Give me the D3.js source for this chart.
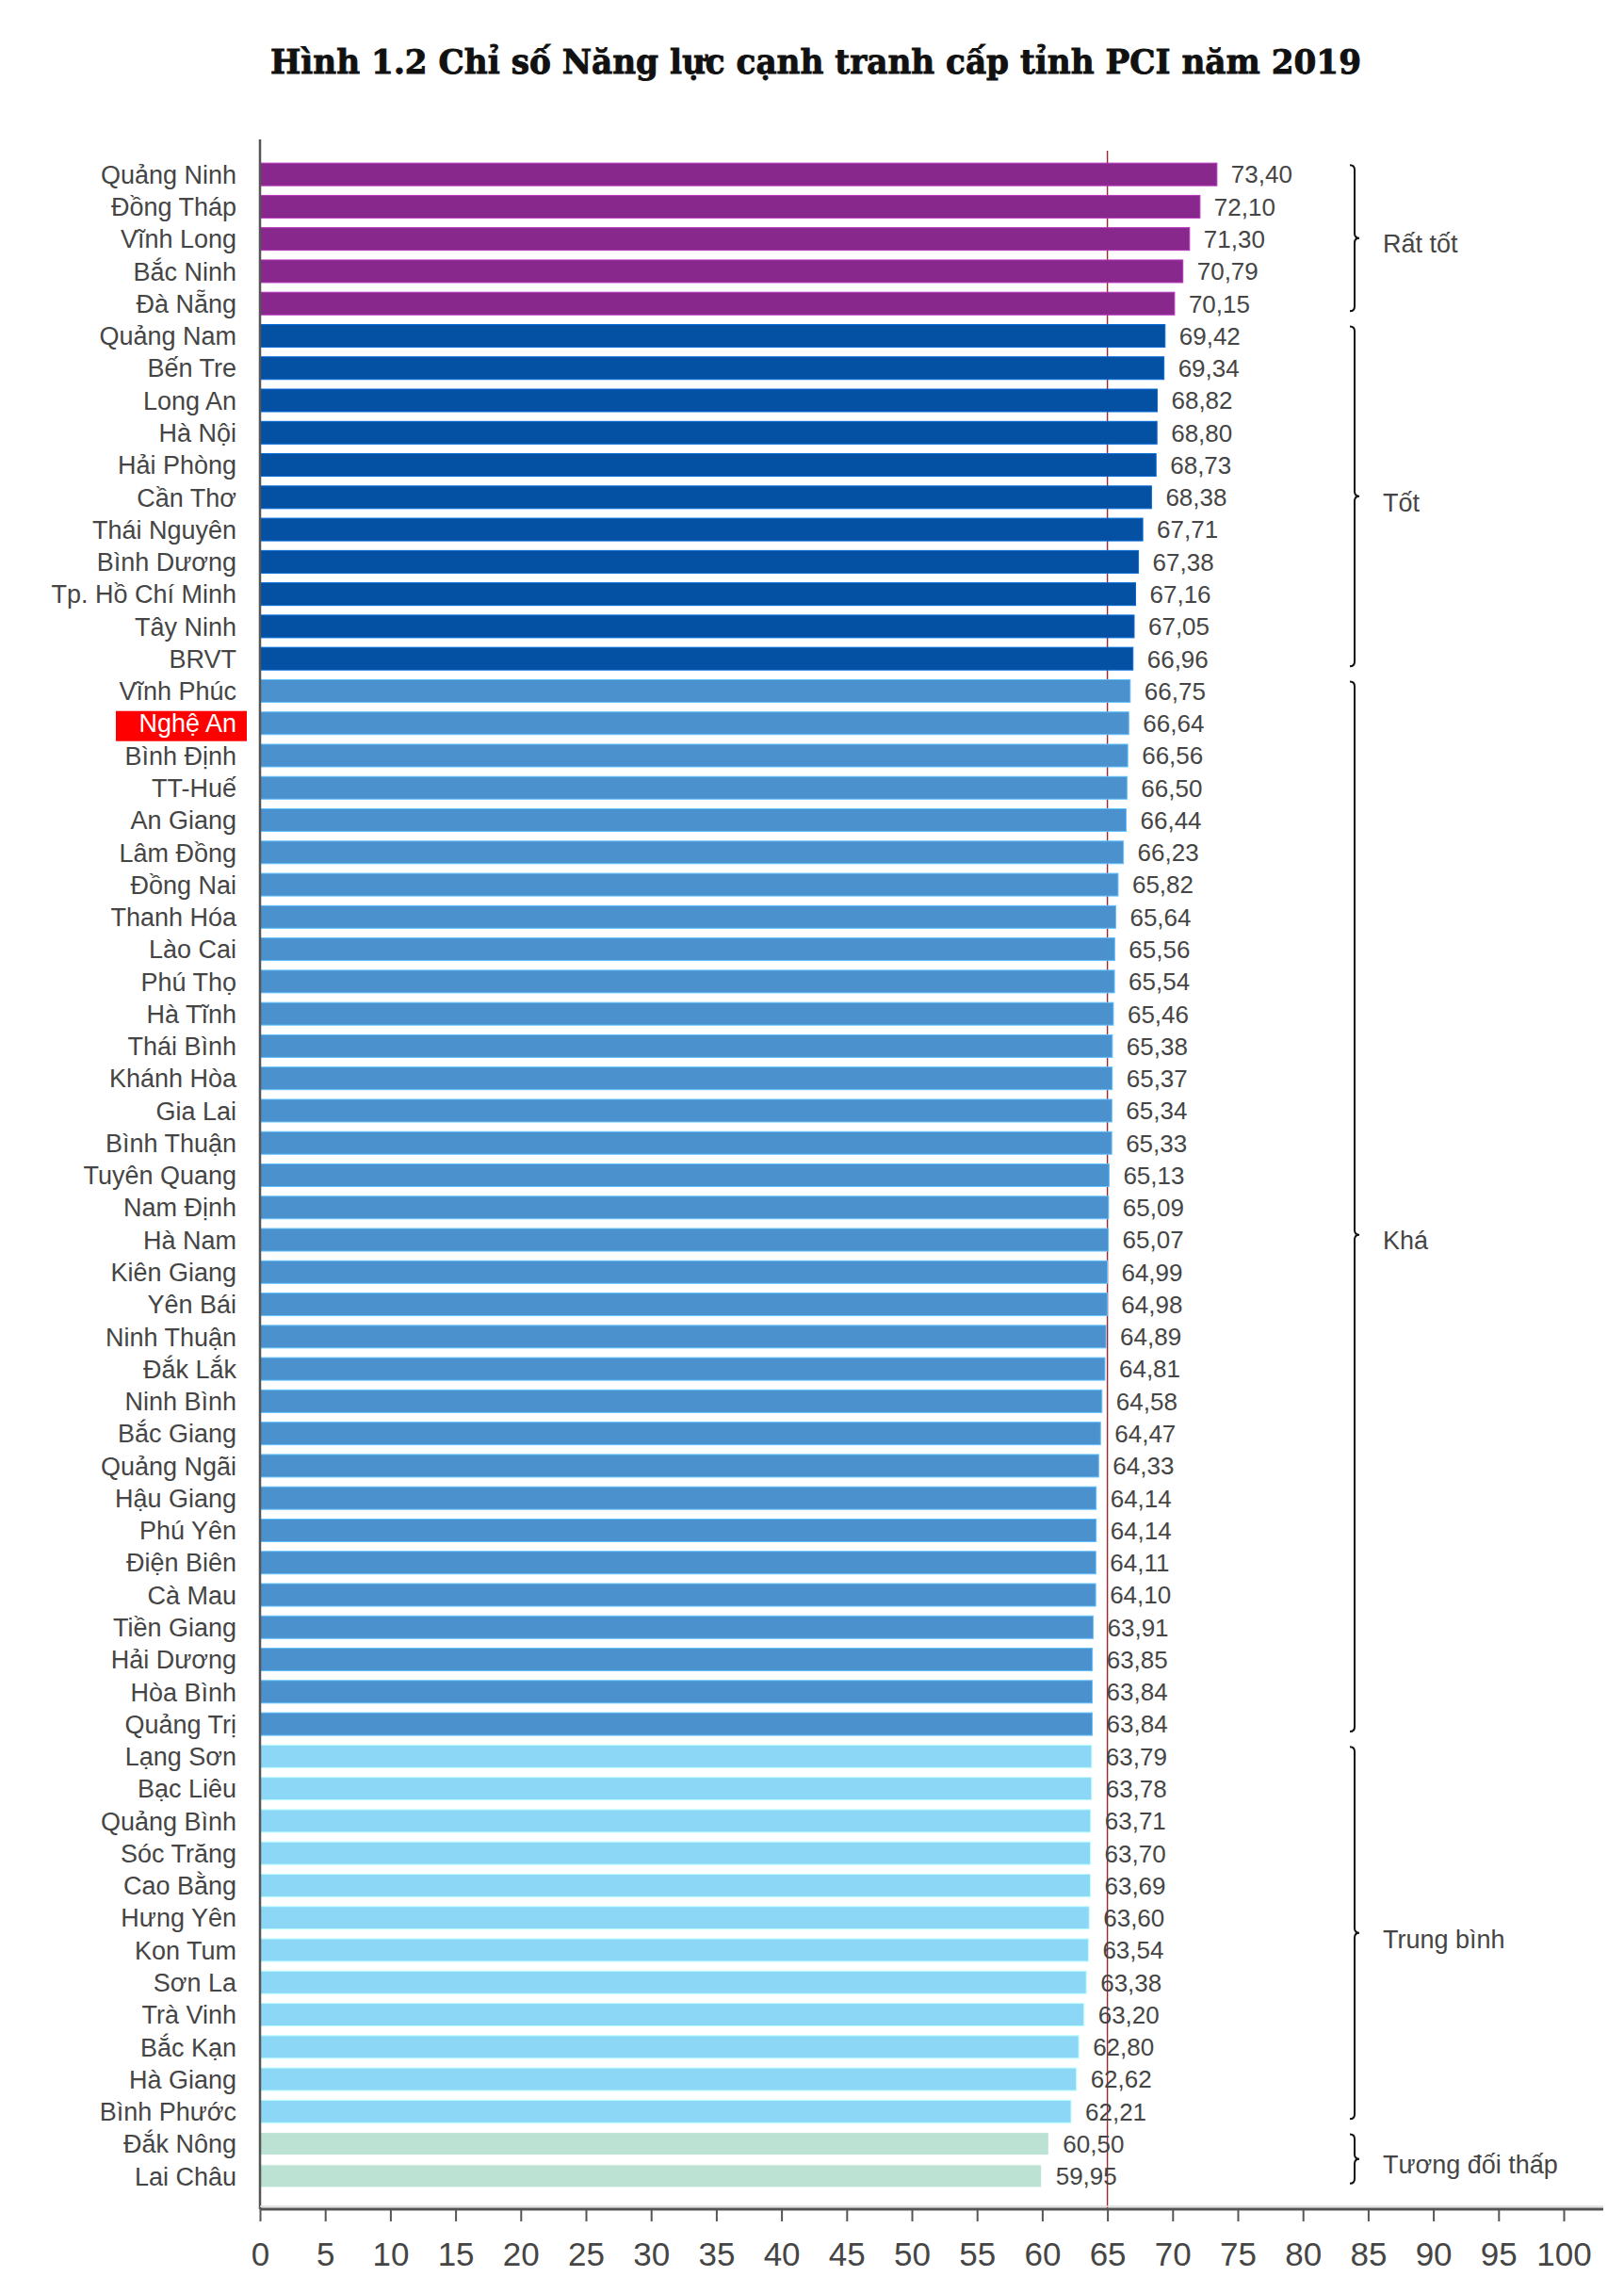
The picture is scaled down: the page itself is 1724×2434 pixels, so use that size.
<!DOCTYPE html>
<html>
<head>
<meta charset="utf-8">
<script src="https://cdn.jsdelivr.net/npm/d3@7"></script>
<style>
  body { margin: 0; background: #fff; }
  svg { display: block; font-family: "Liberation Sans", Arial, sans-serif; }
</style>
</head>
<body>
<svg id="chart" width="1724" height="2434"></svg>
<script>
// --- data ---
const provinces = [
  "Quảng Ninh", "Đồng Tháp", "Vĩnh Long", "Bắc Ninh", "Đà Nẵng",
  "Quảng Nam", "Bến Tre", "Long An", "Hà Nội", "Hải Phòng", "Cần Thơ",
  "Thái Nguyên", "Bình Dương", "Tp. Hồ Chí Minh", "Tây Ninh", "BRVT",
  "Vĩnh Phúc", "Nghệ An", "Bình Định", "TT-Huế", "An Giang", "Lâm Đồng",
  "Đồng Nai", "Thanh Hóa", "Lào Cai", "Phú Thọ", "Hà Tĩnh", "Thái Bình",
  "Khánh Hòa", "Gia Lai", "Bình Thuận", "Tuyên Quang", "Nam Định", "Hà Nam",
  "Kiên Giang", "Yên Bái", "Ninh Thuận", "Đắk Lắk", "Ninh Bình", "Bắc Giang",
  "Quảng Ngãi", "Hậu Giang", "Phú Yên", "Điện Biên", "Cà Mau", "Tiền Giang",
  "Hải Dương", "Hòa Bình", "Quảng Trị",
  "Lạng Sơn", "Bạc Liêu", "Quảng Bình", "Sóc Trăng", "Cao Bằng", "Hưng Yên",
  "Kon Tum", "Sơn La", "Trà Vinh", "Bắc Kạn", "Hà Giang", "Bình Phước",
  "Đắk Nông", "Lai Châu"
];

const scores = [
  73.40, 72.10, 71.30, 70.79, 70.15,
  69.42, 69.34, 68.82, 68.80, 68.73, 68.38,
  67.71, 67.38, 67.16, 67.05, 66.96,
  66.75, 66.64, 66.56, 66.50, 66.44, 66.23,
  65.82, 65.64, 65.56, 65.54, 65.46, 65.38,
  65.37, 65.34, 65.33, 65.13, 65.09, 65.07,
  64.99, 64.98, 64.89, 64.81, 64.58, 64.47,
  64.33, 64.14, 64.14, 64.11, 64.10, 63.91,
  63.85, 63.84, 63.84,
  63.79, 63.78, 63.71, 63.70, 63.69, 63.60,
  63.54, 63.38, 63.20, 62.80, 62.62, 62.21,
  60.50, 59.95
];

const groupNames = ["Rất tốt", "Tốt", "Khá", "Trung bình", "Tương đối thấp"];
const groupCounts = [5, 11, 33, 12, 2];
const groupColors = ["#88288c", "#0450a2", "#4a91ce", "#8dd7f6", "#bce2d4"];

const xTickValues = [0, 5, 10, 15, 20, 25, 30, 35, 40, 45, 50, 55, 60, 65, 70, 75, 80, 85, 90, 95, 100];
const referenceValue = 65;
const highlighted = "Nghệ An";

const title = "Hình 1.2 Chỉ số Năng lực cạnh tranh cấp tỉnh PCI năm 2019";

// group index for every province
const groupIndex = [];
groupCounts.forEach((n, g) => { for (let i = 0; i < n; i++) groupIndex.push(g); });

const rows = provinces.map((name, i) => ({ name, value: scores[i], group: groupIndex[i] }));

// --- layout ---
const svg = d3.select("#chart");
const textColor = "#454545";

const x = d3.scaleLinear().domain([0, 100]).range([276, 1660]);
const y = d3.scaleBand()
  .domain(provinces)
  .range([168, 2327])
  .paddingInner(0.3)
  .paddingOuter(0.15);
const axisY = 2345;

// title
svg.append("text")
  .attr("x", 866)
  .attr("y", 78)
  .attr("text-anchor", "middle")
  .attr("font-family", "'DejaVu Serif', serif")
  .attr("font-weight", "bold")
  .attr("font-size", 35)
  .attr("textLength", 1158)
  .attr("lengthAdjust", "spacingAndGlyphs")
  .attr("fill", "#111")
  .attr("stroke", "#111")
  .attr("stroke-width", 0.9)
  .text(title);

// reference line at 65 (behind the bars)
svg.append("line")
  .attr("x1", x(referenceValue)).attr("x2", x(referenceValue))
  .attr("y1", 160).attr("y2", axisY)
  .attr("stroke", "#a3262c")
  .attr("stroke-width", 1.4);

// bars
svg.append("g")
  .selectAll("rect")
  .data(rows)
  .join("rect")
  .attr("x", x(0))
  .attr("y", d => y(d.name))
  .attr("width", d => x(d.value) - x(0))
  .attr("height", y.bandwidth())
  .attr("fill", d => groupColors[d.group])
  .attr("stroke", d => d3.color(groupColors[d.group]).brighter(0.8))
  .attr("stroke-width", 1);

// value labels
const fmt = v => d3.format(".2f")(v).replace(".", ",");
svg.append("g")
  .selectAll("text")
  .data(rows)
  .join("text")
  .attr("x", d => x(d.value) + 15)
  .attr("y", d => y(d.name) + y.bandwidth() / 2)
  .attr("dy", "0.36em")
  .attr("font-size", 26)
  .attr("fill", textColor)
  .text(d => fmt(d.value));

// category labels
const catG = svg.append("g");
const hi = rows.find(d => d.name === highlighted);
catG.append("rect")
  .attr("x", 123)
  .attr("y", y(hi.name) + y.bandwidth() / 2 - 13)
  .attr("width", 139)
  .attr("height", 32)
  .attr("fill", "#ff0000");

catG.selectAll("text")
  .data(rows)
  .join("text")
  .attr("x", 251)
  .attr("y", d => y(d.name) + y.bandwidth() / 2)
  .attr("dy", "0.36em")
  .attr("text-anchor", "end")
  .attr("font-size", 27)
  .attr("fill", d => d.name === highlighted ? "#fff" : textColor)
  .text(d => d.name);

// y axis line
svg.append("line")
  .attr("x1", x(0)).attr("x2", x(0))
  .attr("y1", 148).attr("y2", axisY)
  .attr("stroke", "#555")
  .attr("stroke-width", 2.5);

// x axis
svg.append("line")
  .attr("x1", x(0)).attr("x2", 1702)
  .attr("y1", axisY - 3).attr("y2", axisY - 3)
  .attr("stroke", "#d8d8d8")
  .attr("stroke-width", 1.5);

const xAxis = d3.axisBottom(x)
  .tickValues(xTickValues)
  .tickSize(13)
  .tickPadding(22)
  .tickFormat(d3.format("d"));

const axG = svg.append("g")
  .attr("transform", `translate(0,${axisY})`)
  .call(xAxis);
axG.select(".domain").remove();
axG.selectAll(".tick line").attr("stroke", "#555").attr("stroke-width", 2);
axG.selectAll(".tick text")
  .attr("font-family", "'Liberation Sans', Arial, sans-serif")
  .attr("font-size", 35)
  .attr("fill", textColor);
axG.append("line")
  .attr("x1", x(0)).attr("x2", 1702)
  .attr("y1", 0).attr("y2", 0)
  .attr("stroke", "#555")
  .attr("stroke-width", 3);

// group braces and labels
const braceX = 1438;
// the "Khá" brace has its point a little below its middle
const braceMidShift = [0, 0, 30, 0, 0];
let start = 0;
const braceG = svg.append("g");
groupCounts.forEach((n, g) => {
  const first = provinces[start];
  const last = provinces[start + n - 1];
  const ya = y(first) + y.bandwidth() / 2 - 10;
  const yb = y(last) + y.bandwidth() / 2 + 8;
  const ym = (ya + yb) / 2 + braceMidShift[g];
  const h = 5;
  const p = d3.path();
  p.moveTo(braceX - h, ya);
  p.quadraticCurveTo(braceX, ya, braceX, ya + h);
  p.lineTo(braceX, ym - h);
  p.quadraticCurveTo(braceX, ym, braceX + h, ym);
  p.quadraticCurveTo(braceX, ym, braceX, ym + h);
  p.lineTo(braceX, yb - h);
  p.quadraticCurveTo(braceX, yb, braceX - h, yb);
  braceG.append("path")
    .attr("d", p.toString())
    .attr("fill", "none")
    .attr("stroke", "#111")
    .attr("stroke-width", 2);
  braceG.append("text")
    .attr("x", braceX + 30)
    .attr("y", ym + 6)
    .attr("dy", "0.36em")
    .attr("font-size", 27)
    .attr("fill", textColor)
    .text(groupNames[g]);
  start += n;
});
</script>
</body>
</html>
